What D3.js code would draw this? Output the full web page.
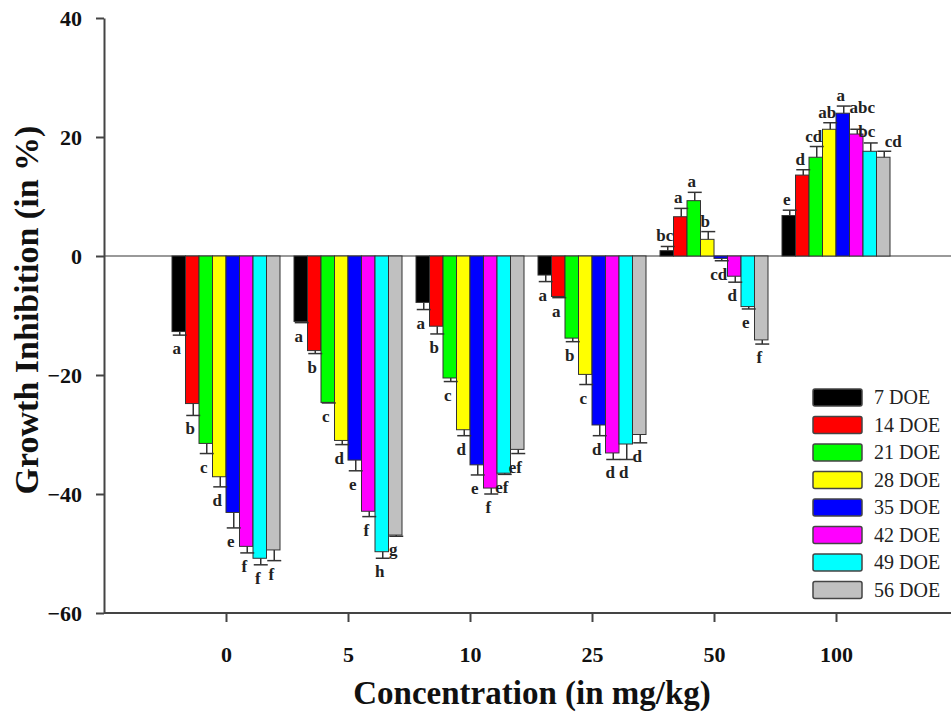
<!DOCTYPE html>
<html>
<head>
<meta charset="utf-8">
<script src="https://cdn.jsdelivr.net/npm/d3@7"></script>
<style>
  body { margin: 0; background: #fff; }
  svg { display: block; }
</style>
</head>
<body>
<svg width="951" height="719"></svg>
<script>
const concentrations = ['0', '5', '10', '25', '50', '100'];
const seriesNames = ['7 DOE', '14 DOE', '21 DOE', '28 DOE', '35 DOE', '42 DOE', '49 DOE', '56 DOE'];
const seriesColors = ['#000000', '#ff0000', '#00ff00', '#ffff00', '#0000ff', '#ff00ff', '#00ffff', '#c0c0c0'];

// mean growth inhibition, one array per sampling day, ordered like concentrations
const doe7 = [-12.7, -11.0, -7.8, -3.2, 0.9, 6.8];
const doe14 = [-24.8, -15.9, -11.8, -6.8, 6.6, 13.6];
const doe21 = [-31.5, -24.6, -20.5, -13.8, 9.3, 16.6];
const doe28 = [-37.1, -31.0, -29.2, -19.9, 2.8, 21.3];
const doe35 = [-43.1, -34.3, -35.1, -28.4, -0.4, 24.0];
const doe42 = [-48.8, -42.9, -39.0, -33.1, -3.4, 20.5];
const doe49 = [-50.8, -49.7, -36.5, -31.6, -8.5, 17.6];
const doe56 = [-49.4, -46.9, -32.5, -30.0, -14.1, 16.6];

// standard errors
const err7 = [0.6, 0.2, 1.2, 1.1, 0.7, 0.9];
const err14 = [2.0, 0.5, 1.3, 0.2, 1.4, 0.9];
const err21 = [1.7, 0.1, 0.6, 0.6, 1.4, 1.8];
const err28 = [1.7, 0.7, 1.0, 1.7, 1.3, 1.1];
const err35 = [2.6, 1.8, 1.7, 1.8, 0.4, 1.2];
const err42 = [1.1, 0.9, 1.0, 1.1, 1.0, 0.8];
const err49 = [1.1, 1.1, 0.2, 2.6, 0.4, 1.4];
const err56 = [1.8, 0.2, 0.7, 1.4, 0.7, 1.0];

// significance letters
const let7 = ['a', 'a', 'a', 'a', 'bc', 'e'];
const let14 = ['b', 'b', 'b', 'a', 'a', 'd'];
const let21 = ['c', 'c', 'c', 'b', 'a', 'cd'];
const let28 = ['d', 'd', 'd', 'c', 'b', 'ab'];
const let35 = ['e', 'e', 'e', 'd', 'cd', 'a'];
const let42 = ['f', 'f', 'f', 'd', 'd', 'abc'];
const let49 = ['f', 'h', 'ef', 'd', 'e', 'bc'];
const let56 = ['f', 'g', 'ef', 'd', 'f', 'cd'];

const yTicks = [-60, -40, -20, 0, 20, 40];

const means = [doe7, doe14, doe21, doe28, doe35, doe42, doe49, doe56];
const errors = [err7, err14, err21, err28, err35, err42, err49, err56];
const letters = [let7, let14, let21, let28, let35, let42, let49, let56];

// a few crowded letters are shifted, as in the original figure
const labelNudge = { '42 DOE|100': [8, -11], '49 DOE|100': [-1, -1], '56 DOE|100': [12, 1] };

const bars = [];
seriesNames.forEach((s, j) => {
  concentrations.forEach((c, i) => {
    bars.push({ series: s, j, conc: c, i, v: means[j][i], e: errors[j][i], lab: letters[j][i] });
  });
});

const svg = d3.select('svg');
const serif = '"Liberation Serif", "Times New Roman", Times, "DejaVu Serif", serif';

const axisLeft = 104, axisBottom = 613, plotTop = 18, plotRight = 958;

const y = d3.scaleLinear().domain([-60, 40]).range([axisBottom, plotTop]);
const x = d3.scaleLinear().domain([-1, 6]).range([axisLeft, plotRight]);
const inner = d3.scaleBand().domain(seriesNames).range([-54, 54]);
const color = d3.scaleOrdinal(seriesNames, seriesColors);

// zero line
svg.append('line')
  .attr('x1', axisLeft).attr('x2', 951)
  .attr('y1', y(0)).attr('y2', y(0))
  .attr('stroke', '#777').attr('stroke-width', 1.5);

// bars
const g = svg.append('g');
g.selectAll('rect')
  .data(bars)
  .join('rect')
  .attr('x', d => x(d.i) + inner(d.series))
  .attr('width', inner.bandwidth())
  .attr('y', d => Math.min(y(d.v), y(0)))
  .attr('height', d => Math.abs(y(d.v) - y(0)))
  .attr('fill', d => color(d.series))
  .attr('stroke', '#333')
  .attr('stroke-width', 1);

// one-sided error bars
const cx = d => x(d.i) + inner(d.series) + inner.bandwidth() / 2 + 1;
const errEnd = d => y(d.v >= 0 ? d.v + d.e : d.v - d.e);

g.selectAll('line.err')
  .data(bars)
  .join('line')
  .attr('class', 'err')
  .attr('x1', cx).attr('x2', cx)
  .attr('y1', d => y(d.v)).attr('y2', errEnd)
  .attr('stroke', '#333').attr('stroke-width', 1.5);

g.selectAll('line.cap')
  .data(bars)
  .join('line')
  .attr('class', 'cap')
  .attr('x1', d => cx(d) - 7).attr('x2', d => cx(d) + 7)
  .attr('y1', errEnd).attr('y2', errEnd)
  .attr('stroke', '#333').attr('stroke-width', 1.5);

// letters
const nudge = d => labelNudge[d.series + '|' + d.conc] || [0, 0];
g.selectAll('text.lab')
  .data(bars)
  .join('text')
  .attr('class', 'lab')
  .attr('x', d => cx(d) - 3 + nudge(d)[0])
  .attr('y', d => (d.v >= 0 ? errEnd(d) - 5 : errEnd(d) + 19) + nudge(d)[1])
  .attr('text-anchor', 'middle')
  .attr('font-family', serif)
  .attr('font-weight', 'bold')
  .attr('font-size', 17)
  .attr('fill', '#222')
  .text(d => d.lab);

// axes
const yAxis = svg.append('g')
  .attr('transform', `translate(${axisLeft},0)`)
  .call(d3.axisLeft(y).tickValues(yTicks).tickSize(8).tickSizeOuter(0).tickPadding(14));

const xAxis = svg.append('g')
  .attr('transform', `translate(0,${axisBottom})`)
  .call(d3.axisBottom(x).tickValues(d3.range(concentrations.length))
    .tickFormat(i => concentrations[i]).tickSize(9).tickSizeOuter(0).tickPadding(24));

xAxis.select('.domain').attr('d', `M${axisLeft},0H951`);

[yAxis, xAxis].forEach(a => {
  a.select('.domain').attr('stroke', '#444').attr('stroke-width', 2);
  a.selectAll('.tick line').attr('stroke', '#444').attr('stroke-width', 2);
  a.selectAll('.tick text')
    .attr('font-family', serif)
    .attr('font-weight', 'bold')
    .attr('font-size', 22)
    .attr('fill', '#111');
});

// axis titles
svg.append('text')
  .attr('x', 532).attr('y', 704)
  .attr('text-anchor', 'middle')
  .attr('font-family', serif).attr('font-weight', 'bold').attr('font-size', 33)
  .attr('fill', '#111')
  .text('Concentration (in mg/kg)');

svg.append('text')
  .attr('transform', 'translate(38,310) rotate(-90)')
  .attr('text-anchor', 'middle')
  .attr('font-family', serif).attr('font-weight', 'bold').attr('font-size', 34)
  .attr('fill', '#111')
  .text('Growth Inhibition (in %)');

// legend
const legend = svg.append('g').attr('transform', 'translate(813,389)');
const item = legend.selectAll('g')
  .data(seriesNames)
  .join('g')
  .attr('transform', (d, k) => `translate(0,${k * 27.5})`);

item.append('rect')
  .attr('width', 49).attr('height', 17).attr('rx', 2)
  .attr('fill', d => color(d))
  .attr('stroke', '#444').attr('stroke-width', 1.5);

item.append('text')
  .attr('x', 61).attr('y', 15)
  .attr('font-family', serif).attr('font-size', 20)
  .attr('fill', '#222')
  .text(d => d);
</script>
</body>
</html>
